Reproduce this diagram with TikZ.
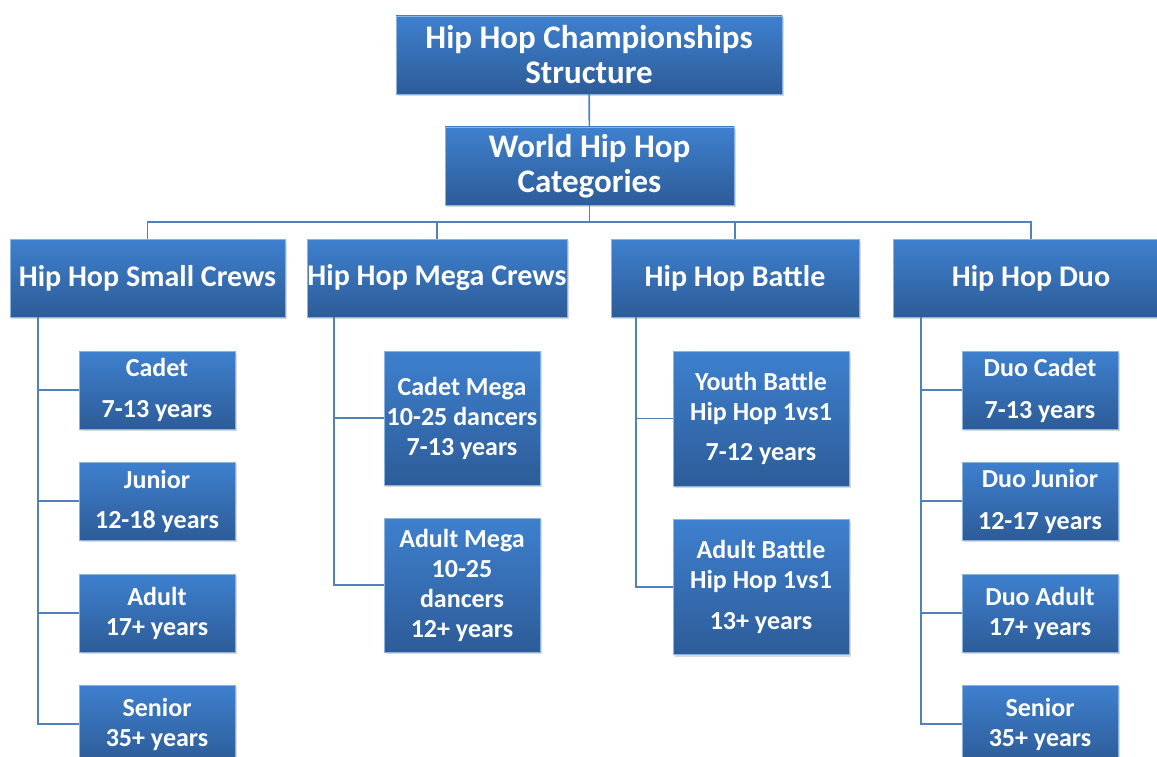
\documentclass[tikz,border=0pt]{standalone}
\usepackage{fontspec}
\setmainfont{Carlito}
\usetikzlibrary{shadows}
\definecolor{boxtop}{RGB}{62,128,206}
\definecolor{boxbottom}{RGB}{45,92,152}
\definecolor{linkblue}{RGB}{79,129,189}

\begin{document}
\begin{tikzpicture}[x=1pt, y=-1pt, box/.style = {shape=rectangle, align=center, text=white, inner sep=0pt, top color=boxtop, bottom color=boxbottom, draw=boxtop!60!white, line width=0.4pt, drop shadow={opacity=0.3, shadow xshift=1.5pt, shadow yshift=-2pt}}, headbox/.style = {box, font=\fontsize{33}{35}\selectfont\bfseries, minimum height=78pt}, groupbox/.style = {box, font=\fontsize{30}{33}\selectfont\bfseries, minimum height=78pt}, entrybox/.style = {box, font=\fontsize{26}{30}\selectfont\bfseries}, link/.style = {draw=linkblue, line width=1.6pt}]
	\clip (0,0) rectangle (1157,757);
	% top of the chart
	\node[headbox, minimum width=386pt] (title) at (589,55) {Hip Hop Championships\\Structure};
	\node[headbox, minimum width=289pt] (world) at (589.5,166) {World Hip Hop\\Categories};
	% the four groups
	\node[groupbox, minimum width=275pt] (small) at (147.5,278) {Hip Hop Small Crews};
	\node[groupbox, minimum width=260pt] (mega) at (437,278) {Hip Hop Mega Crews};
	\node[groupbox, minimum width=248pt] (battle) at (735,278) {Hip Hop Battle};
	\node[groupbox, minimum width=276pt] (duo) at (1031,278) {Hip Hop Duo};
	% small crews
	\node[entrybox, minimum width=156pt, minimum height=78pt] (cadet) at (157,390) {Cadet\\[11pt]7-13 years};
	\node[entrybox, minimum width=156pt, minimum height=78pt] (junior) at (157,501) {Junior\\[10pt]12-18 years};
	\node[entrybox, minimum width=156pt, minimum height=78pt] (adult) at (157,613) {Adult\\17+ years};
	\node[entrybox, minimum width=156pt, minimum height=78pt] (senior) at (157,724) {Senior\\35+ years};
	% mega crews
	\node[entrybox, minimum width=156pt, minimum height=134pt] (cadetmega) at (462,418) {Cadet Mega\\10-25 dancers\\7-13 years};
	\node[entrybox, minimum width=156pt, minimum height=134pt] (adultmega) at (462,585) {Adult Mega\\10-25\\dancers\\12+ years};
	% battle
	\node[entrybox, minimum width=176pt, minimum height=135pt] (youthbattle) at (761,418.5) {Youth Battle\\Hip Hop 1vs1\\[10pt]7-12 years};
	\node[entrybox, minimum width=176pt, minimum height=135pt] (adultbattle) at (761,587) {Adult Battle\\Hip Hop 1vs1\\[11pt]13+ years};
	% duo
	\node[entrybox, minimum width=156pt, minimum height=78pt] (duocadet) at (1040,390) {Duo Cadet\\[12pt]7-13 years};
	\node[entrybox, minimum width=156pt, minimum height=78pt] (duojunior) at (1040,501) {Duo Junior\\[12pt]12-17 years};
	\node[entrybox, minimum width=156pt, minimum height=78pt] (duoadult) at (1040,613) {Duo Adult\\17+ years};
	\node[entrybox, minimum width=156pt, minimum height=78pt] (duosenior) at (1040,724) {Senior\\35+ years};
	% connectors
	\draw[link] (title) -- (world);
	\draw[link] (world.south) -- ++(0,17) -| (small.north);
	\draw[link] (world.south) -- ++(0,17) -| (mega.north);
	\draw[link] (world.south) -- ++(0,17) -| (battle.north);
	\draw[link] (world.south) -- ++(0,17) -| (duo.north);
	\draw[link] ([xshift=28pt]small.south west) |- (cadet.west);
	\draw[link] ([xshift=28pt]small.south west) |- (junior.west);
	\draw[link] ([xshift=28pt]small.south west) |- (adult.west);
	\draw[link] ([xshift=28pt]small.south west) |- (senior.west);
	\draw[link] ([xshift=27pt]mega.south west) |- (cadetmega.west);
	\draw[link] ([xshift=27pt]mega.south west) |- (adultmega.west);
	\draw[link] ([xshift=25pt]battle.south west) |- (youthbattle.west);
	\draw[link] ([xshift=25pt]battle.south west) |- (adultbattle.west);
	\draw[link] ([xshift=28pt]duo.south west) |- (duocadet.west);
	\draw[link] ([xshift=28pt]duo.south west) |- (duojunior.west);
	\draw[link] ([xshift=28pt]duo.south west) |- (duoadult.west);
	\draw[link] ([xshift=28pt]duo.south west) |- (duosenior.west);
\end{tikzpicture}
\end{document}
